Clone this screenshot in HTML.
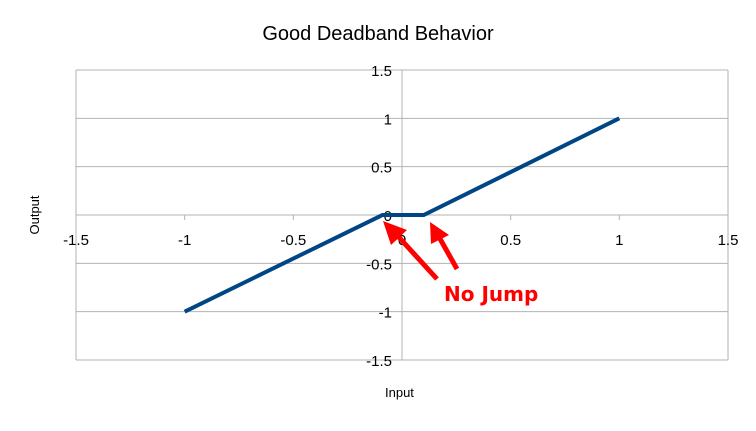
<!DOCTYPE html>
<html><head><meta charset="utf-8"><style>
body{margin:0;background:#fff}
svg text{font-family:"Liberation Sans",sans-serif}
</style></head><body>
<svg width="756" height="426" xmlns="http://www.w3.org/2000/svg">
<text x="378" y="40" font-size="20" text-anchor="middle" fill="#000">Good Deadband Behavior</text>
<g id="grid"></g>
<g id="axes"></g>
<g id="series"></g>
<text x="385" y="397" font-size="13" fill="#000">Input</text>
<text transform="translate(39,215) rotate(-90)" font-size="13" text-anchor="middle" fill="#000">Output</text>
<g>
<line x1="437" y1="279" x2="395" y2="233" stroke="#f00" stroke-width="5"/>
<polygon points="383,221 407,230 391,245" fill="#f00"/>
<line x1="457" y1="269" x2="439" y2="237" stroke="#f00" stroke-width="5"/>
<polygon points="430,222 449,235 431,244" fill="#f00"/>
</g>
<text x="444" y="301" font-size="20" font-weight="bold" fill="#f00" style="font-family:'DejaVu Sans',sans-serif">No Jump</text>
</svg>
<script>
const xTicks=[-1.5,-1,-0.5,0,0.5,1,1.5];
const yTicks=[1.5,1,0.5,0,-0.5,-1,-1.5];
const inputs=[-1,-0.09,0.1,1];
const outputs=[-1,0,0,1];
const X0=76,X1=728,Y0=360,Y1=70;
const sx=v=>X0+(v+1.5)/3*(X1-X0);
const sy=v=>Y0-(v+1.5)/3*(Y0-Y1);
const NS="http://www.w3.org/2000/svg";
function mk(t,a,p){const e=document.createElementNS(NS,t);for(const k in a)e.setAttribute(k,a[k]);p.appendChild(e);return e;}
const g=document.getElementById('grid'),ax=document.getElementById('axes'),s=document.getElementById('series');
yTicks.forEach(v=>{
 const l=mk('line',{x1:X0,x2:X1,y1:sy(v),y2:sy(v),stroke:'#b3b3b3','stroke-width':1},g);
 
 
 const t=mk('text',{x:sx(0)-10,y:sy(v)+6,'font-size':15,'text-anchor':'end',fill:'#000'},ax);
 t.textContent=v;
 
 
});
[-1.5,1.5].forEach(v=>{const l=mk('line',{x1:sx(v),x2:sx(v),y1:Y1,y2:Y0,stroke:'#b3b3b3'},g);
 
 });
const ya=mk('line',{x1:sx(0),x2:sx(0),y1:Y1,y2:Y0,stroke:'#b3b3b3'},ax);


xTicks.forEach(v=>{
 const tk=mk('line',{x1:sx(v),x2:sx(v),y1:sy(0),y2:sy(0)+5,stroke:'#b3b3b3'},ax);
 
 
 const t=mk('text',{x:sx(v),y:sy(0)+30,'font-size':15,'text-anchor':'middle',fill:'#000'},ax);
 t.textContent=v;
 
 
});
const pl=mk('polyline',{points:inputs.map((x,i)=>sx(x)+','+sy(outputs[i])).join(' '),fill:'none',stroke:'#004586','stroke-width':4},s);


</script>
</body></html>
